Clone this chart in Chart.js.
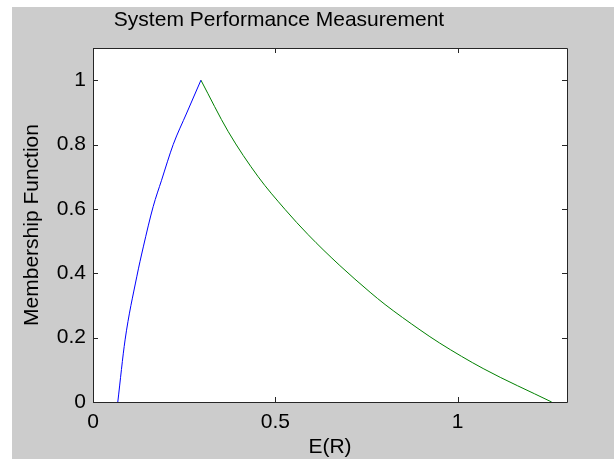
<!DOCTYPE html>
<html>
<head>
<meta charset="utf-8">
<script src="https://cdn.jsdelivr.net/npm/chart.js@4.4.1/dist/chart.umd.min.js"></script>
<style>
  html, body { margin: 0; padding: 0; background: #ffffff; }
  #wrap { width: 614px; height: 459px; }
</style>
</head>
<body>
<div id="wrap"><canvas id="c" width="614" height="459"></canvas></div>
<script>
// ---- data ----
const titleText = "System Performance Measurement";
const xLabel = "E(R)";
const yLabel = "Membership Function";

const risingX = [0.068, 0.088, 0.12, 0.138, 0.165, 0.188, 0.22, 0.257, 0.296];
const risingY = [0, 0.193, 0.389, 0.482, 0.607, 0.689, 0.8, 0.898, 1];

const fallingX = [0.296, 0.371, 0.453, 0.527, 0.59, 0.677, 0.76, 0.801, 0.897, 0.951, 1.07, 1.258];
const fallingY = [1, 0.84, 0.7, 0.598, 0.52, 0.424, 0.341, 0.303, 0.224, 0.183, 0.104, 0];

const xTicks = [0, 0.5, 1];
const yTicks = [0, 0.2, 0.4, 0.6, 0.8, 1];
const xRange = [0, 1.3];
const yRange = [0, 1.1];

const toPts = (xs, ys) => xs.map((x, i) => ({ x: x, y: ys[i] }));

const FONT = "'Liberation Sans', Arial, Helvetica, sans-serif";
const FRAME = '#262626';

const framePlugin = {
  id: 'matlabFrame',
  beforeDraw(chart) {
    const ctx = chart.ctx;
    const a = chart.chartArea;
    ctx.save();
    ctx.fillStyle = '#ffffff';
    ctx.fillRect(0, 0, chart.width, chart.height);
    ctx.fillStyle = '#cccccc';
    ctx.fillRect(12, 7, chart.width - 12, chart.height - 7);
    ctx.fillStyle = '#ffffff';
    ctx.fillRect(a.left, a.top, a.right - a.left, a.bottom - a.top);
    ctx.restore();
  },
  afterDraw(chart) {
    const ctx = chart.ctx;
    const a = chart.chartArea;
    const xs = chart.scales.x, ys = chart.scales.y;
    const L = 5;
    ctx.save();
    // title
    ctx.fillStyle = '#000000';
    ctx.font = "21px " + FONT;
    ctx.textAlign = 'center';
    ctx.textBaseline = 'middle';
    ctx.fillText(titleText, 279, 20);
    // box + inward ticks
    ctx.strokeStyle = FRAME;
    ctx.lineWidth = 1;
    ctx.beginPath();
    ctx.rect(Math.round(a.left) + 0.5, Math.round(a.top) + 0.5,
             Math.round(a.right - a.left), Math.round(a.bottom - a.top));
    ctx.stroke();
    ctx.beginPath();
    xTicks.forEach(v => {
      const px = Math.round(xs.getPixelForValue(v)) + 0.5;
      ctx.moveTo(px, a.bottom); ctx.lineTo(px, a.bottom - L);
      ctx.moveTo(px, a.top); ctx.lineTo(px, a.top + L);
    });
    yTicks.forEach(v => {
      const py = Math.round(ys.getPixelForValue(v)) + 0.5;
      ctx.moveTo(a.left, py); ctx.lineTo(a.left + L, py);
      ctx.moveTo(a.right, py); ctx.lineTo(a.right - L, py);
    });
    ctx.stroke();
    ctx.restore();
  }
};

new Chart(document.getElementById('c'), {
  type: 'line',
  data: {
    datasets: [
      { data: toPts(risingX, risingY), borderColor: '#0000ff', borderWidth: 1, pointRadius: 0, cubicInterpolationMode: 'monotone' },
      { data: toPts(fallingX, fallingY), borderColor: '#008000', borderWidth: 1, pointRadius: 0, cubicInterpolationMode: 'monotone' }
    ]
  },
  options: {
    responsive: false,
    animation: false,
    devicePixelRatio: 1,
    layout: { padding: { left: 0, right: 47, top: 48, bottom: 0 } },
    plugins: {
      legend: { display: false },
      tooltip: { enabled: false },
      title: { display: false }
    },
    scales: {
      x: {
        type: 'linear',
        min: xRange[0], max: xRange[1],
        afterBuildTicks: s => { s.ticks = xTicks.map(v => ({ value: v })); },
        afterFit: s => { s.height = 57; },
        grid: { display: false, drawTicks: false },
        border: { display: false },
        ticks: {
          color: '#000000', padding: 8, maxRotation: 0, autoSkip: false,
          font: { family: FONT, size: 21 },
          callback: v => String(v)
        },
        title: {
          display: true, text: xLabel, color: '#000000',
          font: { family: FONT, size: 21, lineHeight: 1 },
          padding: { top: 0, bottom: 1 }
        }
      },
      y: {
        type: 'linear',
        min: yRange[0], max: yRange[1],
        afterBuildTicks: s => { s.ticks = yTicks.map(v => ({ value: v })); },
        afterFit: s => { s.width = 93; },
        grid: { display: false, drawTicks: false },
        border: { display: false },
        ticks: {
          color: '#000000', padding: 7, autoSkip: false,
          font: { family: FONT, size: 21 },
          callback: v => String(v)
        },
        title: {
          display: true, text: yLabel, color: '#000000',
          font: { family: FONT, size: 21, lineHeight: 1 },
          padding: { top: 22, bottom: 0 }
        }
      }
    }
  },
  plugins: [framePlugin]
});
</script>
</body>
</html>
